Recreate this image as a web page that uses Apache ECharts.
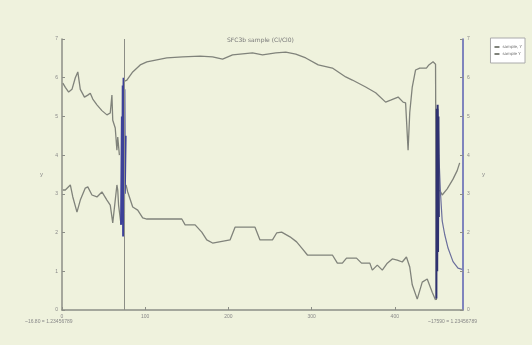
<!DOCTYPE html>
<html>
<head>
<meta charset="utf-8">
<script src="https://cdn.jsdelivr.net/npm/echarts@6/dist/echarts.min.js"></script>
<style>
  html, body { margin: 0; padding: 0; background: #eff2dd; }
  #chart { width: 532px; height: 345px; }
</style>
</head>
<body>
<div id="chart"></div>
<script>
// upper trace (left wiggle, then the broad plateau)
const upperLeft = [
  [1, 5.86], [4, 5.75], [8, 5.63], [12, 5.7], [16, 6.0], [19, 6.15], [22, 5.7], [27, 5.5],
  [31, 5.55], [34, 5.6], [37, 5.45], [42, 5.3], [48, 5.15], [54, 5.04], [58, 5.09], [60, 5.55],
  [61, 4.9], [64, 4.7], [66, 4.13], [67, 4.47], [69, 4.0]
];
const upperMain = [
  [74, 5.9], [78, 5.94], [85, 6.15], [94, 6.33], [102, 6.41], [114, 6.46], [126, 6.51],
  [145, 6.54], [166, 6.56], [181, 6.54], [193, 6.48], [205, 6.59], [229, 6.64], [241, 6.59],
  [257, 6.64], [269, 6.66], [281, 6.61], [293, 6.51], [308, 6.33], [325, 6.25], [341, 6.02],
  [349, 5.94], [365, 5.76], [377, 5.61], [389, 5.37], [395, 5.42], [404, 5.5], [410, 5.37],
  [413, 5.35], [416, 4.13], [418, 5.1], [421, 5.76], [425, 6.2], [430, 6.25], [438, 6.25],
  [441, 6.33], [446, 6.41], [449, 6.35], [450, 0.26]
];
// lower trace (left wiggle, then staircase descent)
const lowerLeft = [
  [1, 3.1], [4, 3.1], [10, 3.23], [13, 2.92], [18, 2.53], [22, 2.84], [28, 3.15], [31, 3.18],
  [36, 2.97], [42, 2.92], [48, 3.05], [54, 2.84], [58, 2.71], [61, 2.25], [62, 2.2], [66, 3.23],
  [67, 3.1], [68, 2.71], [71, 2.2]
];
const lowerMain = [
  [77, 3.23], [79, 3.05], [85, 2.66], [91, 2.58], [97, 2.38], [102, 2.35], [144, 2.35],
  [148, 2.2], [160, 2.2], [168, 2.01], [174, 1.81], [181, 1.73], [202, 1.81], [208, 2.14],
  [232, 2.14], [238, 1.81], [253, 1.81], [258, 1.99], [264, 2.01], [274, 1.89], [282, 1.76],
  [289, 1.58], [295, 1.42], [325, 1.42], [331, 1.21], [337, 1.21], [342, 1.34], [354, 1.34],
  [360, 1.21], [370, 1.21], [373, 1.03], [379, 1.16], [385, 1.03], [391, 1.21], [397, 1.32],
  [403, 1.29], [409, 1.24], [414, 1.37], [418, 1.11], [421, 0.65], [427, 0.28], [433, 0.72],
  [439, 0.8], [445, 0.46], [449, 0.26]
];
// right-hand section after the second jump
const tailDecay = [
  [452, 5.2], [453, 4.0], [455, 3.0], [457, 2.3], [460, 1.95], [464, 1.6], [470, 1.25],
  [476, 1.08], [481, 1.05]
];
const tailRise = [
  [454, 3.1], [457, 2.97], [463, 3.13], [470, 3.38], [475, 3.6], [478, 3.8]
];
// dense blue spikes at the two jumps
const spikeLeft = [
  [71, 2.2], [72, 5.0], [72.5, 2.5], [73, 5.8], [73.5, 1.9], [74, 6.0], [74.5, 2.0],
  [75, 5.7], [75.5, 3.0], [76.5, 4.5]
];
const spikeRight = [
  [450, 0.3], [450.5, 5.2], [451, 1.0], [451.5, 5.3], [452, 1.5], [452.5, 5.0], [453, 2.4]
];
const markX = [74.4];

const xTicks = ['0', '100', '200', '300', '400'];
const titleText = 'SFC3b sample (Cl/Cl0)';
const legendNames = ['sample, Y', 'sample Y'];

const grey = '#80837b';
const blue = '#3d4199';

const chart = echarts.init(document.getElementById('chart'));

const lineBase = {
  type: 'line', showSymbol: false, symbol: 'none', silent: true,
  lineStyle: { width: 1.3, color: grey }, itemStyle: { color: grey }
};

chart.setOption({
  backgroundColor: '#eff2dd',
  animation: false,
  title: {
    text: titleText, left: 222, top: 32,
    textStyle: { fontSize: 6, color: '#777', fontWeight: 'normal', fontFamily: 'DejaVu Sans' }
  },
  legend: {
    right: 7, top: 38, orient: 'vertical',
    data: legendNames,
    backgroundColor: '#ffffff', borderColor: '#aaa', borderWidth: 1,
    padding: [7, 3], itemGap: 3, itemWidth: 5, itemHeight: 2,
    textStyle: { fontSize: 4, color: '#666', fontFamily: 'DejaVu Sans', padding: [0, 0, 0, -2] }
  },
  grid: { left: 62, right: 69, top: 39, bottom: 35 },
  xAxis: {
    type: 'value', min: 0, max: 482, interval: 100,
    axisLine: { lineStyle: { color: '#8c8e86', width: 1.5 } },
    axisTick: { length: 3, inside: true, lineStyle: { color: '#8c8e86' } },
    axisLabel: {
      fontSize: 5, color: '#888', margin: 4,
      formatter: v => xTicks[Math.round(v / 100)] ?? '',
      showMaxLabel: false
    },
    splitLine: { show: false }
  },
  yAxis: [
    {
      type: 'value', min: 0, max: 7, interval: 1, position: 'left',
      name: 'y', nameLocation: 'middle', nameGap: 19, nameRotate: 0,
      nameTextStyle: { fontSize: 6, color: '#888' },
      axisLine: { show: true, lineStyle: { color: '#8c8e86', width: 1.5 } },
      axisTick: { show: true, length: 3, inside: true, lineStyle: { color: '#8c8e86' } },
      axisLabel: { fontSize: 5, color: '#888', margin: 4 },
      splitLine: { show: false }
    },
    {
      type: 'value', min: 0, max: 7, interval: 1, position: 'right',
      name: 'y', nameLocation: 'middle', nameGap: 19, nameRotate: 0,
      nameTextStyle: { fontSize: 6, color: '#888' },
      axisLine: { show: true, lineStyle: { color: '#5a5fb2', width: 1.5 } },
      axisTick: { show: true, length: 3, inside: true, lineStyle: { color: '#8c8e86' } },
      axisLabel: { fontSize: 5, color: '#888', margin: 4 },
      splitLine: { show: false }
    }
  ],
  graphic: [
    { type: 'text', left: 25, top: 319, style: { text: '~16.80 = 1.23456789', fontSize: 5, fill: '#888' } },
    { type: 'text', left: 428, top: 319, style: { text: '~17590 = 1.23456789', fontSize: 5, fill: '#888' } }
  ],
  series: [
    { ...lineBase, name: legendNames[0], data: upperLeft,
      markLine: {
        silent: true, symbol: 'none', label: { show: false },
        lineStyle: { color: '#8c8e86', width: 1, type: 'solid' },
        data: markX.map(x => ({ xAxis: x }))
      } },
    { ...lineBase, name: legendNames[0], data: upperMain },
    { ...lineBase, name: legendNames[1], data: lowerLeft },
    { ...lineBase, name: legendNames[1], data: lowerMain },
    { ...lineBase, name: legendNames[1], data: tailRise },
    { ...lineBase, data: tailDecay, lineStyle: { width: 1.2, color: '#6b6f9c' } },
    { ...lineBase, data: spikeLeft, lineStyle: { width: 2, color: blue } },
    { ...lineBase, data: spikeRight, lineStyle: { width: 2, color: '#2f3270' } }
  ]
});
</script>
</body>
</html>
